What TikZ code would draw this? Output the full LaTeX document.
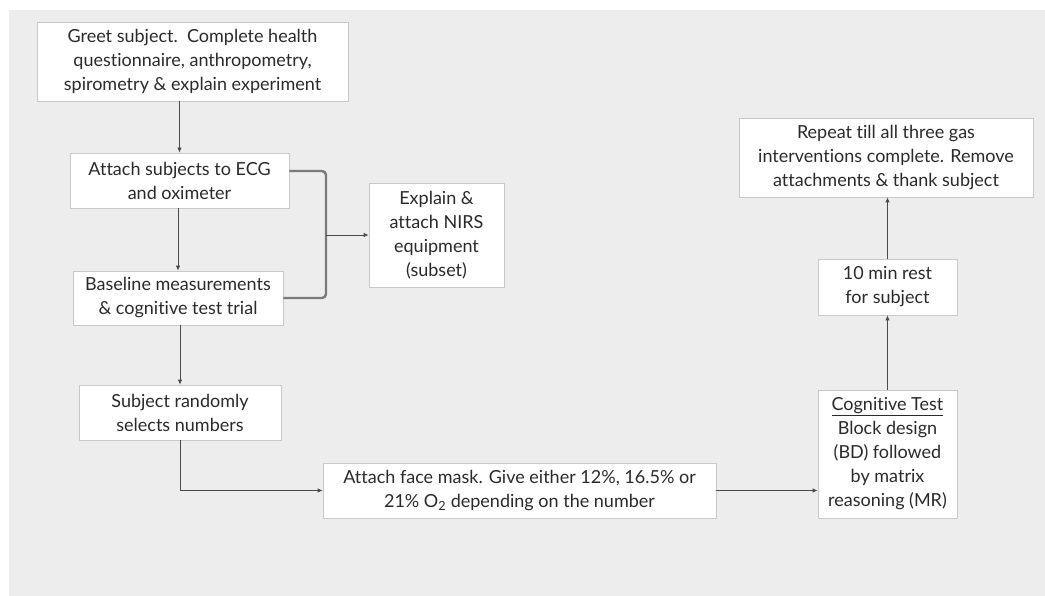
\documentclass[tikz,border=0pt]{standalone}
\usepackage{fontspec}
\setmainfont{Lato}[Ligatures=NoCommon]
\usetikzlibrary{arrows.meta,calc}
\definecolor{bggray}{HTML}{EDEDED}
\definecolor{boxline}{HTML}{C8C8C8}
\definecolor{txt}{HTML}{2A2A2A}
\definecolor{arrcol}{HTML}{4A4A4A}
\definecolor{brackcol}{HTML}{7A7A7A}
\tikzset{
  stepbox/.style={draw=boxline, line width=0.8pt, fill=white, align=center,
    inner sep=0pt, text=txt, font=\fontsize{18}{24}\selectfont},
  arr/.style={draw=arrcol, line width=0.8pt, -{Latex[length=5pt,width=4.5pt]}},
  brack/.style={draw=brackcol, line width=2.4pt, rounded corners=4pt}
}
\begin{document}
\begin{tikzpicture}[x=1pt,y=-1pt]
\useasboundingbox (0,0) rectangle (1045,596);
\fill[bggray] (9,10) rectangle (1045,596);

\node[stepbox, minimum width=311pt, minimum height=79pt] (b1) at (192.5,61.5)
  {Greet subject.\ \ Complete health\\questionnaire, anthropometry,\\spirometry \& explain experiment};
\node[stepbox, minimum width=219pt, minimum height=55pt] (b2) at (179.5,180.5)
  {Attach subjects to ECG\\and oximeter};
\node[stepbox, minimum width=210pt, minimum height=54pt] (b3) at (178,298)
  {Baseline measurements\\\& cognitive test trial};
\node[stepbox, minimum width=135pt, minimum height=104pt] (nirs) at (436.5,235)
  {Explain \&\\attach NIRS\\equipment\\(subset)};
\node[stepbox, minimum width=202pt, minimum height=55pt] (b4) at (180,412.5)
  {Subject randomly\\selects numbers};
\node[stepbox, minimum width=393pt, minimum height=55pt] (face) at (519.5,490.5)
  {Attach face mask. Give either 12\%, 16.5\% or\\21\% O\textsubscript{2} depending on the number};
\node[stepbox, minimum width=139pt, minimum height=128pt] (cog) at (887.5,454)
  {\underline{Cognitive Test}\\Block design\\(BD) followed\\by matrix\\reasoning (MR)};
\node[stepbox, minimum width=139pt, minimum height=56pt] (rest) at (887.5,287)
  {10 min rest\\for subject};
\node[stepbox, minimum width=294pt, minimum height=79pt] (rep) at (886,157.5)
  {Repeat till all three gas\\interventions complete. Remove\\attachments \& thank subject};

\coordinate (bt) at ($(b2.east)+(0,-9.5)$);
\coordinate (bb) at (b3.east);
\coordinate (bx) at (326,235);

\draw[arr] (b2.north |- b1.south) -- (b2.north);
\draw[arr] (b3.north |- b2.south) -- (b3.north);
\draw[brack] (bt) -| (bx) |- (bb);
\draw[arr] (bx) -- (nirs.west);
\draw[arr] (b4.north |- b3.south) -- (b4.north);
\draw[arr] (b4.south) |- (face.west);
\draw[arr] (face.east) -- (cog.west |- face.east);
\draw[arr] (cog.north) -- (rest.south);
\draw[arr] (rest.north) -- (rest.north |- rep.south);
\end{tikzpicture}
\end{document}
